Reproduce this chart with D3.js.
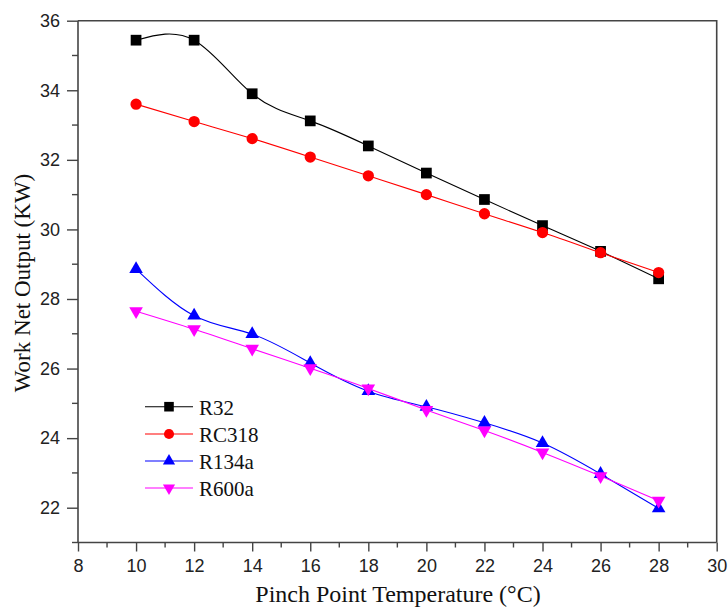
<!DOCTYPE html>
<html>
<head>
<meta charset="utf-8">
<script src="https://cdn.jsdelivr.net/npm/d3@7"></script>
<style>
  html, body { margin: 0; padding: 0; background: #fff; }
  svg { display: block; }
</style>
</head>
<body>
<svg id="chart" width="728" height="608"></svg>
<script>
// Pinch point temperature (°C)
const temps = [10, 12, 14, 16, 18, 20, 22, 24, 26, 28];

// Work net output (kW) per refrigerant
const r32    = [35.44, 35.44, 33.90, 33.12, 32.40, 31.62, 30.86, 30.11, 29.37, 28.58];
const rc318  = [33.60, 33.10, 32.61, 32.08, 31.54, 31.00, 30.45, 29.91, 29.33, 28.76];
const r134a  = [28.86, 27.52, 26.99, 26.16, 25.35, 24.90, 24.44, 23.86, 22.97, 21.98];
const r600a  = [27.65, 27.13, 26.57, 26.01, 25.43, 24.81, 24.22, 23.59, 22.91, 22.20];

const seriesNames  = ["R32", "RC318", "R134a", "R600a"];
const seriesValues = [r32, rc318, r134a, r600a];
const seriesColors = ["#000000", "#ff0000", "#0000ff", "#ff00ff"];
const seriesShapes = ["square", "circle", "triangle", "triangleDown"];

const xTicks = [8, 10, 12, 14, 16, 18, 20, 22, 24, 26, 28, 30];
const yTicks = [22, 24, 26, 28, 30, 32, 34, 36];

const xTitle = "Pinch Point Temperature (\u00B0C)";
const yTitle = "Work Net Output (KW)";

const svg = d3.select("#chart");
const plotLeft = 78, plotRight = 716.7, plotTop = 20.7, plotBottom = 542.5;

const x = d3.scaleLinear().domain([8, 30]).range([plotLeft, plotRight]);
const y = d3.scaleLinear().domain([21, 36]).range([plotBottom, plotTop]);

const axisColor = "#444";
const tickFont = "'Liberation Sans', Arial, sans-serif";
const serif = "'Liberation Serif', 'Times New Roman', serif";

// frame (top and right edges)
svg.append("path")
  .attr("d", `M${plotLeft},${plotTop}H${plotRight}V${plotBottom}`)
  .attr("fill", "none").attr("stroke", axisColor).attr("stroke-width", 1.6);

// minor tick positions
const xMinor = d3.range(9, 30, 2);
const yMinor = d3.range(21, 36, 2);

const xAxis = d3.axisBottom(x).tickValues(xTicks).tickSize(9).tickPadding(8).tickFormat(d3.format("d"));
const yAxis = d3.axisLeft(y).tickValues(yTicks).tickSize(11).tickPadding(7).tickFormat(d3.format("d"));

const gx = svg.append("g").attr("transform", `translate(0,${plotBottom})`).call(xAxis);
const gy = svg.append("g").attr("transform", `translate(${plotLeft},0)`).call(yAxis);

[gx, gy].forEach(g => {
  g.select(".domain").attr("stroke", axisColor).attr("stroke-width", 1.6);
  g.selectAll(".tick line").attr("stroke", axisColor).attr("stroke-width", 1.4);
  g.selectAll(".tick text").attr("fill", "#222").style("font-family", tickFont).style("font-size", "18px");
});
// plain axis lines without outer ticks
gx.select(".domain").attr("d", `M${plotLeft},0H${plotRight}`);
gy.select(".domain").attr("d", `M0,${plotBottom}V${plotTop}`);

gx.selectAll(".minor").data(xMinor).enter().append("line")
  .attr("class", "minor")
  .attr("x1", d => x(d)).attr("x2", d => x(d)).attr("y1", 0).attr("y2", 5)
  .attr("stroke", axisColor).attr("stroke-width", 1.4);
gy.selectAll(".minor").data(yMinor).enter().append("line")
  .attr("class", "minor")
  .attr("y1", d => y(d)).attr("y2", d => y(d)).attr("x1", 0).attr("x2", -6)
  .attr("stroke", axisColor).attr("stroke-width", 1.4);

// axis titles
svg.append("text")
  .attr("x", 398).attr("y", 602)
  .attr("text-anchor", "middle")
  .style("font-family", serif).style("font-size", "24px").attr("fill", "#111")
  .text(xTitle);
svg.append("text")
  .attr("transform", `translate(30,283) rotate(-90)`)
  .attr("text-anchor", "middle")
  .style("font-family", serif).style("font-size", "23px").attr("fill", "#111")
  .text(yTitle);

function symbolPath(shape, scale) {
  const s = scale || 1;
  if (shape === "square") return d3.symbol(d3.symbolSquare, 115 * s)();
  if (shape === "circle") return d3.symbol(d3.symbolCircle, 100 * s)();
  return d3.symbol(d3.symbolTriangle, 80 * s)();
}

const line = d3.line()
  .x(d => x(d[0]))
  .y(d => y(d[1]))
  .curve(d3.curveNatural);

seriesValues.forEach((vals, i) => {
  const pts = temps.map((t, k) => [t, vals[k]]);
  const g = svg.append("g");
  g.append("path")
    .attr("d", line(pts))
    .attr("fill", "none")
    .attr("stroke", seriesColors[i])
    .attr("stroke-width", 1.1);
  g.selectAll("path.mk").data(pts).enter().append("path")
    .attr("class", "mk")
    .attr("d", symbolPath(seriesShapes[i]))
    .attr("transform", d => `translate(${x(d[0])},${y(d[1])})` + (seriesShapes[i] === "triangleDown" ? " rotate(180)" : ""))
    .attr("fill", seriesColors[i]);
});

// legend
const legendY = [406.7, 434, 461, 488];
const lg = svg.append("g");
seriesNames.forEach((name, i) => {
  const yy = legendY[i];
  lg.append("line").attr("x1", 145).attr("x2", 193).attr("y1", yy).attr("y2", yy)
    .attr("stroke", seriesColors[i]).attr("stroke-width", 1.1);
  lg.append("path")
    .attr("d", symbolPath(seriesShapes[i], 0.8))
    .attr("transform", `translate(169,${yy})` + (seriesShapes[i] === "triangleDown" ? " rotate(180)" : ""))
    .attr("fill", seriesColors[i]);
  lg.append("text").attr("x", 199).attr("y", yy + 8)
    .style("font-family", serif).style("font-size", "21px").attr("fill", "#111")
    .text(name);
});
</script>
</body>
</html>
